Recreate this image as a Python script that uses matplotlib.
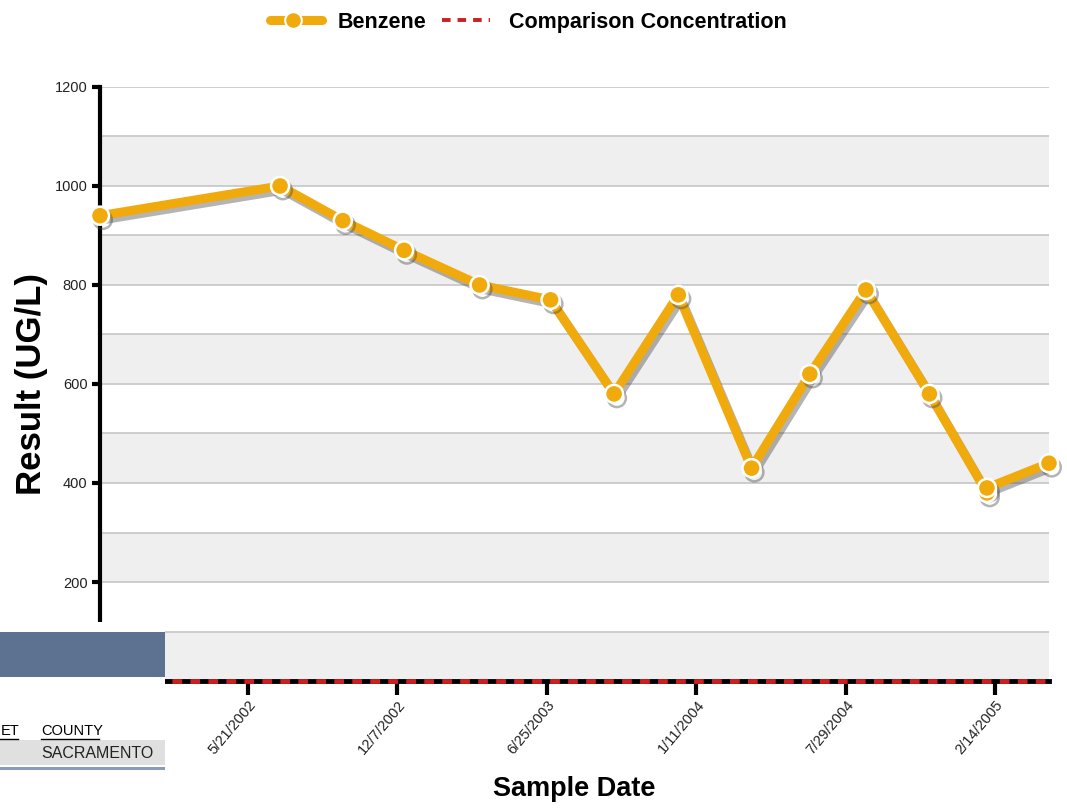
import matplotlib.pyplot as plt
import matplotlib.dates as mdates
import matplotlib.patheffects as pe
from matplotlib.patches import Rectangle
from matplotlib.lines import Line2D
import pandas as pd

plt.rcParams['font.family'] = ['Liberation Sans', 'DejaVu Sans']

# データ
sample_dates = ['2001-11-04', '2002-07-03', '2002-09-25', '2002-12-16', '2003-03-27',
                '2003-06-30', '2003-09-23', '2003-12-18', '2004-03-25', '2004-06-11',
                '2004-08-25', '2004-11-18', '2005-02-03', '2005-02-03', '2005-04-27']
benzene = [940, 1000, 930, 870, 800, 770, 580, 780, 430, 620, 790, 580, 380, 390, 440]
comparison = 0

tick_dates = ['2002-05-21', '2002-12-07', '2003-06-25', '2004-01-11', '2004-07-29', '2005-02-14']
tick_labels = ['5/21/2002', '12/7/2002', '6/25/2003', '1/11/2004', '7/29/2004', '2/14/2005']

x = mdates.date2num(pd.to_datetime(sample_dates))
xt = mdates.date2num(pd.to_datetime(tick_dates))

orange = '#f0aa0c'
red = '#cc1f1f'
W, H = 1067, 809

fig = plt.figure(figsize=(10.67, 8.09), dpi=100)
ax = fig.add_axes([0.0937, 0.1582, 0.8894, 0.7343])

# 背景の縞
for lo in range(0, 1200, 200):
    ax.axhspan(lo, lo + 100, color='#efefef', zorder=0, lw=0)
for yv in range(100, 1300, 100):
    ax.axhline(yv, color='#c6c6c6', lw=1.2, zorder=1)

# ベンゼン
ax.plot(x, benzene, color=orange, lw=6.5, marker='o', markersize=13,
        markerfacecolor=orange, markeredgecolor='white', markeredgewidth=1.8,
        solid_capstyle='round', zorder=5, clip_on=False,
        path_effects=[pe.SimpleLineShadow(offset=(2, -3), shadow_color='#444444', alpha=0.4), pe.Normal()])

# 比較濃度
ax.axhline(comparison, color='black', lw=3.5, zorder=6, clip_on=False)
ax.axhline(comparison, color=red, lw=3.5, ls=(0, (2, 1.7)), zorder=7, clip_on=False)

ax.set_xlim(x[0], x[-1])
ax.set_ylim(0, 1200)
ax.set_yticks(range(200, 1400, 200))
ax.set_yticklabels([str(v) for v in range(200, 1400, 200)], fontsize=10.5, color='#222222')
ax.set_xticks(xt)
ax.set_xticklabels(tick_labels, rotation=50, ha='right', rotation_mode='anchor',
                   fontsize=10.5, color='#222222')

for s in ['top', 'right', 'bottom']:
    ax.spines[s].set_visible(False)
ax.spines['left'].set_linewidth(3)
ax.spines['left'].set_color('black')
ax.tick_params(axis='y', length=6, width=3, pad=3)
ax.tick_params(axis='x', length=10, width=3, pad=2)

ax.set_ylabel('Result (UG/L)', fontsize=25, fontweight='bold', labelpad=5)
ax.set_xlabel('Sample Date', fontsize=19.5, fontweight='bold', labelpad=14)

# 凡例 (手で配置)
ly = 1 - 20 / H
fig.add_artist(Line2D([270 / W, 322 / W], [ly, ly], color=orange, lw=6.5,
                      solid_capstyle='round', transform=fig.transFigure))
fig.add_artist(Line2D([293 / W], [ly], color=orange, marker='o', markersize=12,
                      markeredgecolor='white', markeredgewidth=1.5, transform=fig.transFigure))
fig.text(338 / W, ly, 'Benzene', fontsize=15.5, fontweight='bold', va='center_baseline')
fig.add_artist(Line2D([442 / W, 490 / W], [ly, ly], color=red, lw=2.8,
                      ls=(0, (2.2, 1.8)), transform=fig.transFigure))
fig.text(509 / W, ly, 'Comparison Concentration', fontsize=15.5, fontweight='bold',
         va='center_baseline')

# 左下のオーバーレイ
fig.patches.append(Rectangle((0, 0), 165 / W, 1 - 622 / H, transform=fig.transFigure,
                             facecolor='white', edgecolor='none', zorder=10))
fig.patches.append(Rectangle((0, 1 - 677 / H), 165 / W, 45 / H, transform=fig.transFigure,
                             facecolor='#5d7190', edgecolor='none', zorder=11))
fig.patches.append(Rectangle((0, 1 - 765 / H), 165 / W, 25 / H, transform=fig.transFigure,
                             facecolor='#e0e0e0', edgecolor='none', zorder=11))
fig.patches.append(Rectangle((0, 1 - 770 / H), 165 / W, 3 / H, transform=fig.transFigure,
                             facecolor='#8a9ab8', edgecolor='none', zorder=11))
fig.text(1 / W, 1 - 731 / H, 'ET', fontsize=10.5, va='center', zorder=12)
fig.text(41 / W, 1 - 731 / H, 'COUNTY', fontsize=10.5, va='center', zorder=12)
fig.add_artist(Line2D([0, 18 / W], [1 - 739 / H] * 2, color='black', lw=1, transform=fig.transFigure, zorder=12))
fig.add_artist(Line2D([41 / W, 99 / W], [1 - 739 / H] * 2, color='black', lw=1, transform=fig.transFigure, zorder=12))
fig.text(41 / W, 1 - 753 / H, 'SACRAMENTO', fontsize=11.5, va='center', zorder=12, color='#222222')

fig.savefig('out.png', dpi=100)
